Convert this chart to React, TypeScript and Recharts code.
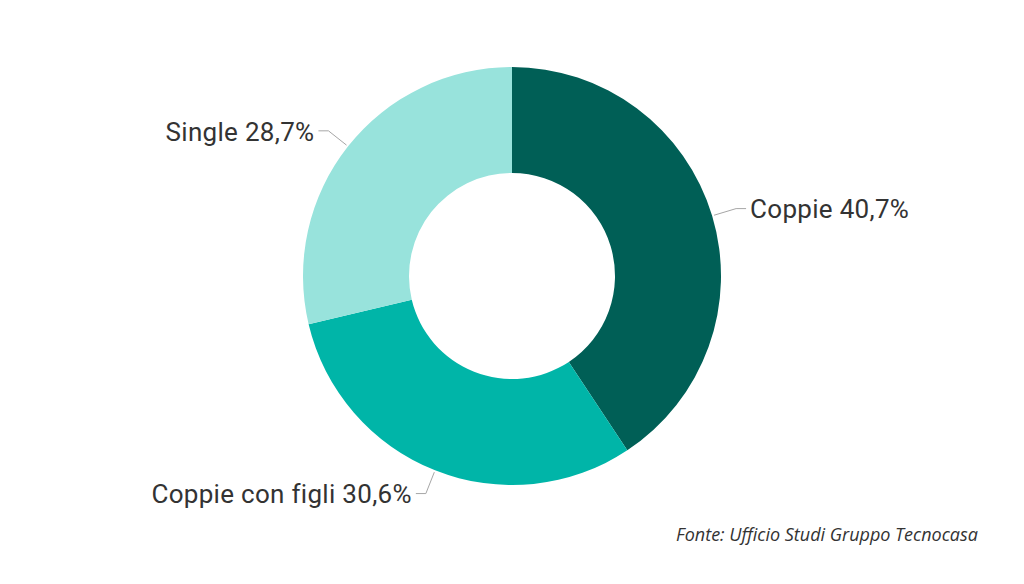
import React from "react";
import { PieChart, Pie, Cell } from "recharts";

const categories = ["Coppie", "Coppie con figli", "Single"];
const shares = [40.7, 30.6, 28.7];
const colors = ["#005f56", "#00b5a8", "#98e3dc"];
const source = "Fonte: Ufficio Studi Gruppo Tecnocasa";

const data = categories.map((name, i) => ({ name, value: shares[i] }));

const RADIAN = Math.PI / 180;

const renderLabel = (props: any) => {
  const { cx, cy, midAngle, outerRadius, index } = props;
  const sin = Math.sin(-midAngle * RADIAN);
  const cos = Math.cos(-midAngle * RADIAN);
  const sx = cx + (outerRadius + 2) * cos;
  const sy = cy + (outerRadius + 2) * sin;
  const mx = cx + (outerRadius + 25) * cos;
  const my = cy + (outerRadius + 25) * sin;
  const right = cos >= 0;
  const ex = mx + (right ? 10 : -10);
  const tx = ex + (right ? 4 : -4);
  const label = `${categories[index]} ${shares[index].toFixed(1).replace(".", ",")}%`;
  return (
    <g key={`lbl-${index}`}>
      <polyline
        points={`${sx},${sy} ${mx},${my} ${ex},${my}`}
        fill="none"
        stroke="#a6a6a6"
        strokeWidth={1}
      />
      <text
        x={tx}
        y={my + 3}
        textAnchor={right ? "start" : "end"}
        dominantBaseline="middle"
        fill="#333333"
        fontSize={26}
        letterSpacing={0.3}
        fontFamily="Roboto, sans-serif"
      >
        {label}
      </text>
    </g>
  );
};

export default function App() {
  return (
    <div style={{ position: "fixed", left: 0, top: 0, width: 1024, height: 584, background: "#fff" }}>
      <PieChart width={1024} height={584}>
        <Pie
          data={data}
          dataKey="value"
          nameKey="name"
          cx={507}
          cy={271}
          innerRadius={103}
          outerRadius={209}
          startAngle={90}
          endAngle={-270}
          stroke="none"
          label={renderLabel}
          labelLine={false}
          isAnimationActive={false}
        >
          {data.map((d, i) => (
            <Cell key={d.name} fill={colors[i]} />
          ))}
        </Pie>
      </PieChart>
      <div
        style={{
          position: "absolute",
          right: 46,
          top: 522,
          fontFamily: "'Open Sans', sans-serif",
          fontStyle: "italic",
          fontSize: 18,
          color: "#333",
          whiteSpace: "nowrap",
        }}
      >
        {source}
      </div>
    </div>
  );
}
